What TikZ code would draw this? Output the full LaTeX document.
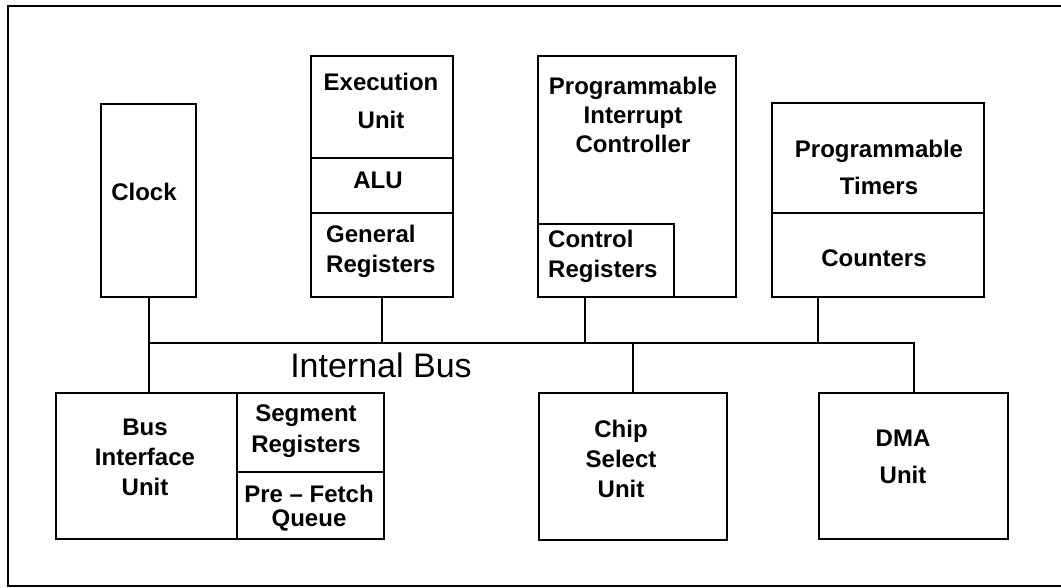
\documentclass[tikz,border=0pt]{standalone}
\usepackage{fontspec}
\setmainfont{Liberation Sans}
\begin{document}
\begin{tikzpicture}[x=1pt,y=-1pt,
  box/.style={draw, line width=2.4pt, inner sep=0pt, anchor=north west},
  wire/.style={line width=2.2pt},
  frameline/.style={line width=2.2pt},
  txt/.style={font=\fontsize{24}{#1}\selectfont\bfseries, inner sep=0pt, align=center},
  txt/.default=30,
  ltxt/.style={font=\fontsize{24}{#1}\selectfont\bfseries, inner sep=0pt, align=left, anchor=west},
  ltxt/.default=30,
  buslabel/.style={font=\fontsize{34}{40}\selectfont, inner sep=0pt}]
\useasboundingbox (0,0) rectangle (1061,587);
\draw[frameline] (1061,6) -- (8,6) -- (8,586) -- (1061,586);

% top row boxes
\node[box, minimum width=95pt, minimum height=193pt] (clock) at (100,103) {};
\node[box, minimum width=142pt, minimum height=102pt] (eu) at (310,55) {};
\node[box, minimum width=142pt, minimum height=55pt] (alu) at (310,157) {};
\node[box, minimum width=142pt, minimum height=84pt] (genreg) at (310,212) {};
\node[box, minimum width=198pt, minimum height=241pt] (pic) at (537,55) {};
\node[box, minimum width=136pt, minimum height=73pt] (ctrl) at (537,223) {};
\node[box, minimum width=212pt, minimum height=110pt] (timers) at (771,102) {};
\node[box, minimum width=212pt, minimum height=84pt] (counters) at (771,212) {};

% bottom row boxes
\node[box, minimum width=181pt, minimum height=146pt] (biu) at (55,392) {};
\node[box, minimum width=147pt, minimum height=79pt] (seg) at (236,392) {};
\node[box, minimum width=147pt, minimum height=67pt] (pref) at (236,471) {};
\node[box, minimum width=188pt, minimum height=147pt] (chip) at (538,392) {};
\node[box, minimum width=189pt, minimum height=146pt] (dma) at (818,392) {};

% texts
\node[txt] (clockT) at (144,192) {Clock};
\node[txt=38] (euT) at (381,101) {Execution\\Unit};
\node[txt] (aluT) at (378,180) {ALU};
\node[ltxt] (genT) at (326,251) {General\\Registers};
\node[txt=29] (picT) at (633,115) {Programmable\\Interrupt\\Controller};
\node[ltxt] (ctrlT) at (548,256) {Control\\Registers};
\node[txt=37] (timT) at (879,167) {Programmable\\Timers};
\node[txt] (cntT) at (874,258) {Counters};
\node[txt] (biuT) at (145,457) {Bus\\Interface\\Unit};
\node[txt=31] (segT) at (306,431) {Segment\\Registers};
\node[txt=24] (prefT) at (309,508) {Pre – Fetch\\Queue};
\node[txt] (chipT) at (621,459) {Chip\\Select\\Unit};
\node[txt=37] (dmaT) at (903,457) {DMA\\Unit};

% bus
\coordinate (busL) at (148,343);
\coordinate (busR) at (dma.north |- busL);
\coordinate (picTap) at ([xshift=48pt]pic.south west);
\coordinate (timTap) at ([xshift=47pt]counters.south west);
\draw[wire] (busL) -- (busR) -- (dma.north);
\draw[wire] (clock.south) -- (clock.south |- biu.north);
\draw[wire] (genreg.south) -- (genreg.south |- busL);
\draw[wire] (picTap) -- (picTap |- busL);
\draw[wire] (timTap) -- (timTap |- busL);
\draw[wire] (chip.north) -- (chip.north |- busL);
\node[buslabel] (busT) at (381,365) {Internal Bus};
\end{tikzpicture}
\end{document}
